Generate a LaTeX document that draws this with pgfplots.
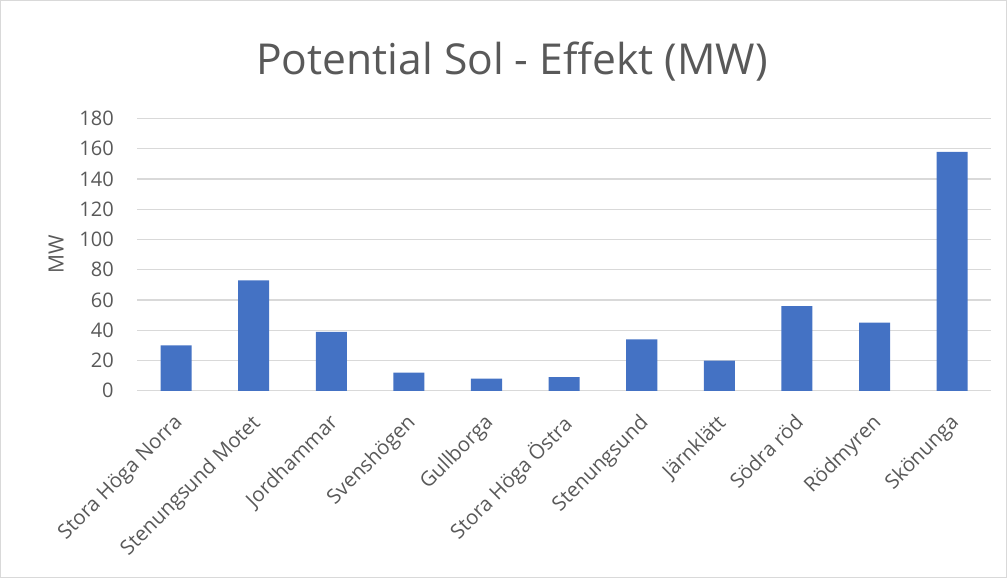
\documentclass[border=0pt]{standalone}
\usepackage{fontspec}
\setmainfont{Open Sans}
\usepackage{pgfplots}
\pgfplotsset{compat=1.18}
\definecolor{barblue}{HTML}{4472C4}
\definecolor{gridgrey}{HTML}{D9D9D9}
\definecolor{textgrey}{HTML}{595959}
\begin{document}
\begin{tikzpicture}[x=1bp,y=1bp]
\draw[gridgrey, line width=1bp] (1.5,1.5) rectangle (1005.5,577.5);
\node[textgrey, font=\fontsize{42.5bp}{50bp}\selectfont] at (512,517) {Potential Sol - Effekt (MW)};
\begin{axis}[
  at={(138bp,188bp)}, anchor=south west,
  scale only axis, width=852bp, height=271.7bp,
  xmin=-0.5, xmax=10.5, ymin=0, ymax=180,
  axis line style={draw=none},
  ytick={0,20,...,180},
  ymajorgrids, grid style={gridgrey, line width=1.3bp},
  major tick length=0pt,
  xtick={0,...,10},
  xticklabels={Stora Höga Norra, Stenungsund Motet, Jordhammar, Svenshögen, Gullborga, Stora Höga Östra, Stenungsund, Järnklätt, Södra röd, Rödmyren, Skönunga},
  xticklabel style={rotate=45, anchor=north east, font=\fontsize{20.3bp}{24bp}\selectfont, text=textgrey, inner sep=2bp, yshift=-11bp, xshift=-16bp},
  yticklabel style={font=\fontsize{20bp}{24bp}\selectfont, text=textgrey, xshift=-20bp},
  /pgf/number format/assume math mode=true,
  ylabel={MW},
  every axis y label/.style={at={(axis description cs:-0.0951,0.5)}, rotate=90, anchor=center, font=\fontsize{21bp}{24bp}\selectfont, text=textgrey},
  clip=false,
]
\addplot[ybar, bar width=31bp, fill=barblue, draw=none] coordinates {
(0,30) (1,73) (2,39) (3,12) (4,8) (5,9) (6,34) (7,20) (8,56) (9,45) (10,158)};
\end{axis}
\end{tikzpicture}
\end{document}
